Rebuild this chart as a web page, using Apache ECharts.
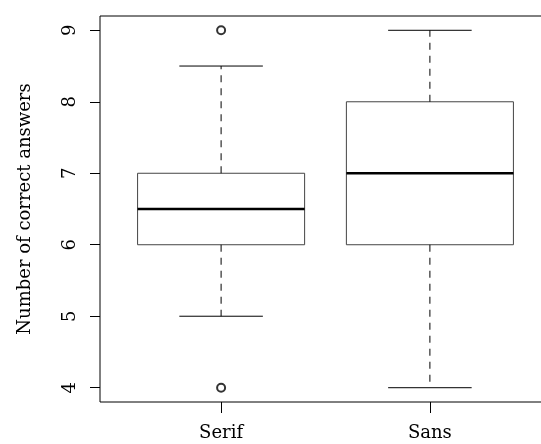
<!DOCTYPE html>
<html>
<head>
<meta charset="utf-8">
<script src="https://cdn.jsdelivr.net/npm/echarts@6/dist/echarts.min.js"></script>
<style>
  html, body { margin: 0; padding: 0; background: #fff; overflow: hidden; }
  #chart { width: 551px; height: 444px; }
</style>
</head>
<body>
<div id="chart"></div>
<script>
// Font groups and their five-number summaries
const categories = ['Serif', 'Sans'];
const whiskerLow = [5, 4];
const lowerQuartile = [6, 6];
const medians = [6.5, 7];
const upperQuartile = [7, 8];
const whiskerHigh = [8.5, 9];
// Outliers: [group index (1-based), value]
const outliers = [[1, 4], [1, 9]];
const yTicks = [4, 5, 6, 7, 8, 9];

const FONT = 'DejaVu Serif';
const BOX_W = 0.8;
const CAP_W = 0.4;

const boxData = categories.map((c, i) => [
  i + 1, whiskerLow[i], lowerQuartile[i], medians[i], upperQuartile[i], whiskerHigh[i]
]);

function renderBox(params, api) {
  const x = api.value(0);
  const lo = api.coord([x, api.value(1)]);
  const q1 = api.coord([x, api.value(2)]);
  const md = api.coord([x, api.value(3)]);
  const q3 = api.coord([x, api.value(4)]);
  const hi = api.coord([x, api.value(5)]);
  const halfBox = (api.coord([x + BOX_W / 2, 0])[0] - api.coord([x, 0])[0]);
  const halfCap = (api.coord([x + CAP_W / 2, 0])[0] - api.coord([x, 0])[0]);
  const cx = lo[0];
  const solid = { stroke: '#000', lineWidth: 1, fill: null };
  const dashed = { stroke: '#000', lineWidth: 1, lineDash: [7, 6] };
  return {
    type: 'group',
    children: [
      { type: 'rect', shape: { x: cx - halfBox, y: q3[1], width: halfBox * 2, height: q1[1] - q3[1] },
        style: { stroke: '#444', lineWidth: 1, fill: null } },
      { type: 'line', shape: { x1: cx - halfBox, y1: md[1], x2: cx + halfBox, y2: md[1] },
        style: { stroke: '#000', lineWidth: 2.5 } },
      { type: 'line', shape: { x1: cx, y1: q3[1], x2: cx, y2: hi[1] }, style: dashed },
      { type: 'line', shape: { x1: cx, y1: q1[1], x2: cx, y2: lo[1] }, style: dashed },
      { type: 'line', shape: { x1: cx - halfCap, y1: hi[1], x2: cx + halfCap, y2: hi[1] }, style: solid },
      { type: 'line', shape: { x1: cx - halfCap, y1: lo[1], x2: cx + halfCap, y2: lo[1] }, style: solid }
    ]
  };
}

const chart = echarts.init(document.getElementById('chart'), null, { renderer: 'canvas' });
chart.setOption({
  animation: false,
  backgroundColor: '#fff',
  grid: {
    left: 100, top: 16, width: 451, height: 386,
    show: true, borderColor: '#000', borderWidth: 1, backgroundColor: 'transparent'
  },
  xAxis: {
    type: 'value',
    min: 0.42, max: 2.58,
    splitLine: { show: false },
    axisLine: { show: false },
    axisTick: { show: true, length: 11, lineStyle: { color: '#000' }, customValues: [1, 2] },
    axisLabel: {
      customValues: [1, 2],
      margin: 22,
      fontFamily: FONT, fontSize: 18, color: '#000',
      formatter: v => categories[Math.round(v) - 1] || ''
    }
  },
  yAxis: {
    type: 'value',
    min: 3.8, max: 9.2,
    name: 'Number of correct answers',
    nameLocation: 'middle',
    nameGap: 66,
    nameRotate: 90,
    nameTextStyle: { fontFamily: FONT, fontSize: 18, color: '#000' },
    splitLine: { show: false },
    axisLine: { show: false },
    axisTick: { show: true, length: 10, lineStyle: { color: '#000' }, customValues: yTicks },
    axisLabel: {
      customValues: yTicks,
      rotate: 90,
      margin: 21,
      fontFamily: FONT, fontSize: 18, color: '#000'
    }
  },
  series: [
    {
      type: 'custom',
      renderItem: renderBox,
      data: boxData,
      encode: { x: 0, y: [1, 2, 3, 4, 5] },
      silent: true
    },
    {
      type: 'scatter',
      data: outliers,
      symbol: 'emptyCircle',
      symbolSize: 8,
      itemStyle: { color: '#000', borderColor: '#000', borderWidth: 1 },
      silent: true
    }
  ]
});
</script>
</body>
</html>
